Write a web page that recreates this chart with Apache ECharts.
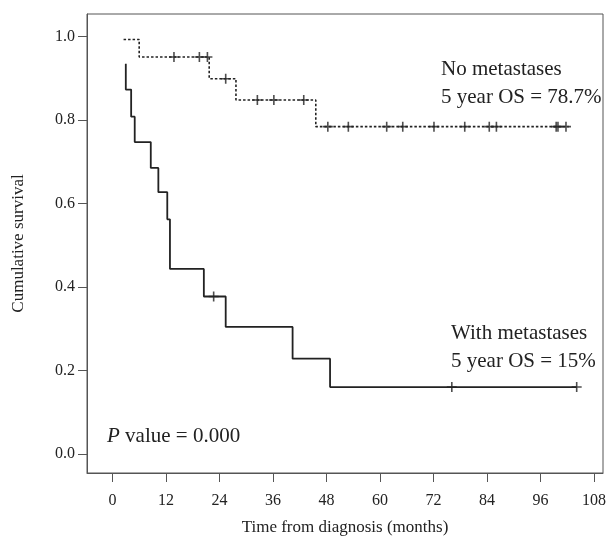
<!DOCTYPE html>
<html>
<head>
<meta charset="utf-8">
<script src="https://cdn.jsdelivr.net/npm/echarts@6/dist/echarts.min.js"></script>
<style>
  html, body { margin: 0; padding: 0; background: #fff; }
  #chart { width: 613px; height: 543px; }
</style>
</head>
<body>
<div id="chart"></div>
<script>
// Kaplan-Meier steps (months, survival)
var noMetTimes = [2.5, 6.0, 21.7, 27.7, 45.6, 102.3];
var noMetSurv = [0.993, 0.951, 0.899, 0.848, 0.784, 0.784];
var withMetTimes = [3.0, 3.0, 4.2, 5.0, 8.6, 10.3, 12.3, 12.9, 20.5, 25.4, 40.4, 48.8, 104.1];
var withMetSurv = [0.935, 0.873, 0.808, 0.747, 0.685, 0.627, 0.562, 0.443, 0.377, 0.304, 0.228, 0.160, 0.160];

// censored observations (+ marks)
var noMetCensorTimes = [13.8, 19.5, 21.3, 25.4, 32.5, 36.2, 42.9, 48.3, 52.9, 61.5, 65.1, 72.1, 79.0, 84.5, 86.1, 99.5, 99.9, 101.7];
var noMetCensorSurv = [0.951, 0.951, 0.951, 0.899, 0.848, 0.848, 0.848, 0.784, 0.784, 0.784, 0.784, 0.784, 0.784, 0.784, 0.784, 0.784, 0.784, 0.784];
var withMetCensorTimes = [22.7, 76.1, 104.1];
var withMetCensorSurv = [0.377, 0.160, 0.160];

// tick labels
var xTicks = [0, 12, 24, 36, 48, 60, 72, 84, 96, 108];
var yTicks = [0, 0.2, 0.4, 0.6, 0.8, 1.0];

function pairs(xs, ys) {
  return xs.map(function (x, i) { return [x, ys[i]]; });
}

var font = "'Liberation Serif', 'DejaVu Serif', serif";
var plus = "path://M4.2,0h1.6v4.2h4.2v1.6h-4.2v4.2h-1.6v-4.2h-4.2v-1.6h4.2z";

var chart = echarts.init(document.getElementById("chart"));
chart.setOption({
  animation: false,
  textStyle: { fontFamily: font },
  grid: {
    left: 87, right: 10, top: 14, bottom: 70,
    show: true, borderColor: "#555", borderWidth: 1
  },
  xAxis: {
    type: "value",
    min: -5.7, max: 110,
    name: "Time from diagnosis (months)",
    nameLocation: "middle",
    nameGap: 46,
    nameTextStyle: { fontFamily: font, fontSize: 17, color: "#222" },
    axisLine: { show: true, onZero: false, lineStyle: { color: "#555", width: 1 } },
    axisTick: { show: true, length: 9, customValues: xTicks, lineStyle: { color: "#555" } },
    axisLabel: {
      customValues: xTicks, margin: 20,
      fontFamily: font, fontSize: 16, color: "#222"
    },
    splitLine: { show: false }
  },
  yAxis: {
    type: "value",
    min: -0.046, max: 1.054,
    name: "Cumulative survival",
    nameLocation: "middle",
    nameGap: 60,
    nameTextStyle: { fontFamily: font, fontSize: 17, color: "#222" },
    axisLine: { show: true, onZero: false, lineStyle: { color: "#555", width: 1 } },
    axisTick: { show: true, length: 9, customValues: yTicks, lineStyle: { color: "#555" } },
    axisLabel: {
      customValues: yTicks, margin: 12,
      fontFamily: font, fontSize: 16, color: "#222",
      formatter: function (v) { return v.toFixed(1); }
    },
    splitLine: { show: false }
  },
  series: [
    {
      name: "No metastases",
      type: "line",
      step: "end",
      data: pairs(noMetTimes, noMetSurv),
      symbol: "none",
      lineStyle: { color: "#222", width: 1.6, type: [2.5, 2] }
    },
    {
      name: "With metastases",
      type: "line",
      step: "end",
      data: pairs(withMetTimes, withMetSurv),
      symbol: "none",
      lineStyle: { color: "#222", width: 1.8 }
    },
    {
      type: "scatter",
      data: pairs(noMetCensorTimes, noMetCensorSurv),
      symbol: plus, symbolSize: 10,
      itemStyle: { color: "#222" }
    },
    {
      type: "scatter",
      data: pairs(withMetCensorTimes, withMetCensorSurv),
      symbol: plus, symbolSize: 10,
      itemStyle: { color: "#222" }
    }
  ],
  graphic: [
    {
      type: "text", left: 441, top: 59,
      style: { text: "No metastases", font: "21px " + font, fill: "#222" }
    },
    {
      type: "text", left: 441, top: 87,
      style: { text: "5 year OS = 78.7%", font: "21px " + font, fill: "#222" }
    },
    {
      type: "text", left: 451, top: 323,
      style: { text: "With metastases", font: "21px " + font, fill: "#222" }
    },
    {
      type: "text", left: 451, top: 351,
      style: { text: "5 year OS = 15%", font: "21px " + font, fill: "#222" }
    },
    {
      type: "text", left: 107, top: 426,
      style: {
        text: "{i|P} value = 0.000",
        font: "21px " + font, fill: "#222",
        rich: { i: { fontStyle: "italic", fontFamily: font, fontSize: 21, fill: "#222" } }
      }
    }
  ]
});
</script>
</body>
</html>
